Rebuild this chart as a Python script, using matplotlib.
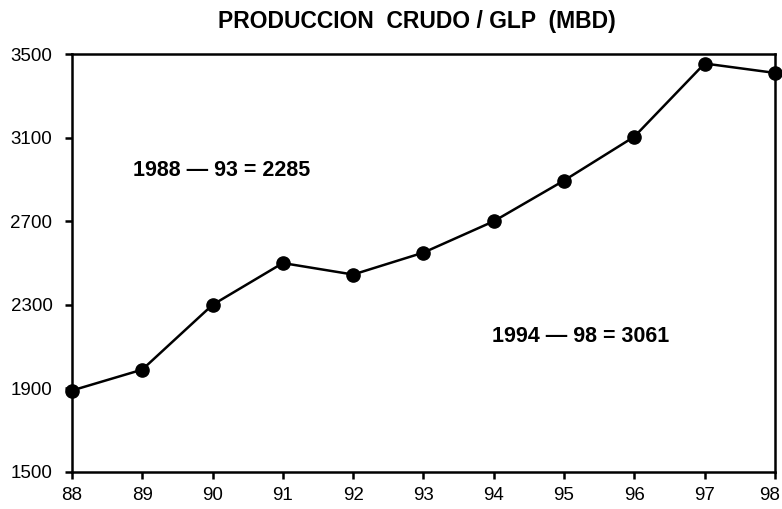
import matplotlib.pyplot as plt
import matplotlib.transforms as mtransforms

plt.rcParams['font.family'] = ['Liberation Sans', 'DejaVu Sans']

years = [88, 89, 90, 91, 92, 93, 94, 95, 96, 97, 98]
produccion = [1890, 1990, 2300, 2500, 2445, 2550, 2700, 2895, 3105, 3455, 3410]
y_ticks = [1500, 1900, 2300, 2700, 3100, 3500]
title = 'PRODUCCION  CRUDO / GLP  (MBD)'
nota_1 = '1988 \u2014 93 = 2285'
nota_2 = '1994 \u2014 98 = 3061'

fig = plt.figure(figsize=(7.82, 5.09), dpi=100)
ax = fig.add_axes([0.092, 0.0727, 0.899, 0.821])

ax.plot(years, produccion, color='black', linewidth=1.8, marker='o',
        markersize=9.5, clip_on=False, zorder=3)

ax.set_xlim(88, 98)
ax.set_ylim(1500, 3500)
ax.set_xticks(years)
ax.set_xticklabels([str(y) for y in years])
ax.set_yticks(y_ticks)

for s in ax.spines.values():
    s.set_linewidth(1.8)
ax.tick_params(axis='both', direction='out', length=5, width=1.8,
               labelsize=13.5, colors='black')
ax.tick_params(axis='x', pad=6)
ax.tick_params(axis='y', pad=9)

# last label sits on the figure edge, nudge it left a little
last = ax.get_xticklabels()[-1]
last.set_transform(last.get_transform() +
                   mtransforms.ScaledTranslation(-0.05, 0, fig.dpi_scale_trans))

# averages written inside the plot
ax.text(0.087, 0.722, nota_1, transform=ax.transAxes, fontsize=15.5,
        fontweight='bold', ha='left', va='center')
ax.text(0.597, 0.325, nota_2, transform=ax.transAxes, fontsize=15.5,
        fontweight='bold', ha='left', va='center')

fig.text(0.533, 0.958, title, fontsize=16.5, fontweight='bold',
         ha='center', va='center')

plt.savefig('out.png', dpi=100)
